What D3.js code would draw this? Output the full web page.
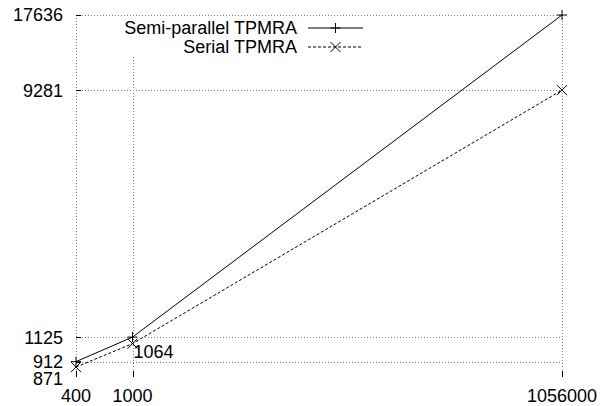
<!DOCTYPE html>
<html>
<head>
<meta charset="utf-8">
<script src="https://cdn.jsdelivr.net/npm/d3@7"></script>
<style>
  body { margin: 0; background: #fff; }
  text { font-family: "Liberation Sans", Arial, sans-serif; font-size: 18px; fill: #000; }
</style>
</head>
<body>
<div class="chart"></div>
<script>
// data
const sizes = [400, 1000, 1056000];
const semiParallel = [912, 1125, 17636];
const serial = [871, 1064, 9281];
const seriesNames = ["Semi-parallel TPMRA", "Serial TPMRA"];
const yTickValues = [871, 912, 1125, 9281, 17636];
const yGridValues = [912, 1125, 9281, 17636];
const yMin = 800;

const width = 605, height = 406;
const margin = {top: 15, right: 43, bottom: 29, left: 76};

const svg = d3.select(".chart")
  .append("svg")
  .attr("width", width)
  .attr("height", height);

const x = d3.scaleLog()
  .domain([sizes[0], sizes[sizes.length - 1]])
  .range([margin.left, width - margin.right]);

const y = d3.scaleLog()
  .domain([yMin, d3.max(semiParallel)])
  .range([height - margin.bottom, margin.top]);

const grid = svg.append("g")
  .attr("stroke", "#808080")
  .attr("stroke-width", 1)
  .attr("stroke-dasharray", "1,2");

// horizontal grid
grid.selectAll(".hgrid")
  .data(yGridValues)
  .enter().append("line")
  .attr("x1", x.range()[0]).attr("x2", x.range()[1])
  .attr("y1", d => Math.round(y(d)) + 0.5)
  .attr("y2", d => Math.round(y(d)) + 0.5);

// vertical grid
grid.selectAll(".vgrid")
  .data(sizes)
  .enter().append("line")
  .attr("x1", d => Math.round(x(d)) + 0.5)
  .attr("x2", d => Math.round(x(d)) + 0.5)
  .attr("y1", y.range()[1]).attr("y2", y.range()[0]);

// key box blanks the grid behind it
const key = {x: 115, y: 18, w: 255, h: 39};
svg.append("rect")
  .attr("x", key.x).attr("y", key.y)
  .attr("width", key.w).attr("height", key.h)
  .attr("fill", "#fff");

// tick marks
svg.append("g").selectAll("line")
  .data(yTickValues.filter(d => d !== 871))
  .enter().append("line")
  .attr("x1", x.range()[0]).attr("x2", x.range()[0] + 5)
  .attr("y1", d => Math.round(y(d)) + 0.5)
  .attr("y2", d => Math.round(y(d)) + 0.5)
  .attr("stroke", "#000");

svg.append("g").selectAll("line")
  .data(sizes)
  .enter().append("line")
  .attr("x1", d => Math.round(x(d)) + 0.5)
  .attr("x2", d => Math.round(x(d)) + 0.5)
  .attr("y1", y.range()[0] - 6).attr("y2", y.range()[0])
  .attr("stroke", "#000");

// tick labels
svg.append("g").selectAll("text")
  .data(yTickValues)
  .enter().append("text")
  .attr("x", x.range()[0] - 13)
  // 871 is pushed down so it clears 912
  .attr("y", d => d === 871 ? y.range()[0] + 2 : y(d))
  .attr("dy", "0.36em")
  .attr("text-anchor", "end")
  .text(d => d);

svg.append("g").selectAll("text")
  .data(sizes)
  .enter().append("text")
  .attr("x", d => x(d))
  .attr("y", y.range()[0] + 19)
  .attr("dy", "0.36em")
  .attr("text-anchor", "middle")
  .text(d => d);

// lines
const line = d3.line()
  .x(d => x(d[0]))
  .y(d => y(d[1]));

const semiPts = sizes.map((s, i) => [s, semiParallel[i]]);
const serialPts = sizes.map((s, i) => [s, serial[i]]);

svg.append("path")
  .datum(semiPts)
  .attr("d", line)
  .attr("fill", "none")
  .attr("stroke", "#000")
  .attr("stroke-width", 1);

svg.append("path")
  .datum(serialPts)
  .attr("d", line)
  .attr("fill", "none")
  .attr("stroke", "#000")
  .attr("stroke-width", 1)
  .attr("stroke-dasharray", "3,2");

function plus(g, cx, cy) {
  g.append("path")
    .attr("d", `M${cx - 5},${cy}H${cx + 5}M${cx},${cy - 5}V${cy + 5}`)
    .attr("stroke", "#000").attr("fill", "none");
}
function cross(g, cx, cy) {
  g.append("path")
    .attr("d", `M${cx - 5},${cy - 5}L${cx + 5},${cy + 5}M${cx - 5},${cy + 5}L${cx + 5},${cy - 5}`)
    .attr("stroke", "#000").attr("fill", "none");
}

const marks = svg.append("g");
semiPts.forEach(d => plus(marks, x(d[0]), y(d[1])));
serialPts.forEach(d => cross(marks, x(d[0]), y(d[1])));

// point label
svg.append("text")
  .attr("x", x(sizes[1]) + 1)
  .attr("y", y(serial[1]) + 8)
  .attr("dy", "0.36em")
  .text(serial[1]);

// key
const keyRows = [
  {name: seriesNames[0], dash: null, mark: plus},
  {name: seriesNames[1], dash: "3,2", mark: cross}
];
keyRows.forEach((r, i) => {
  const ry = 28 + i * 19;
  svg.append("text")
    .attr("x", 297).attr("y", ry)
    .attr("dy", "0.36em")
    .attr("text-anchor", "end")
    .text(r.name);
  svg.append("line")
    .attr("x1", 308).attr("x2", 363)
    .attr("y1", ry).attr("y2", ry)
    .attr("stroke", "#000")
    .attr("stroke-dasharray", r.dash);
  r.mark(svg, 335.5, ry);
});
</script>
</body>
</html>
